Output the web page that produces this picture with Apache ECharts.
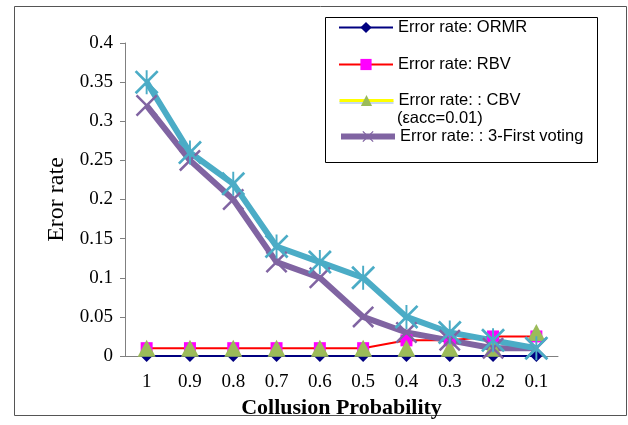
<!DOCTYPE html>
<html>
<head>
<meta charset="utf-8">
<script src="https://cdn.jsdelivr.net/npm/echarts@6/dist/echarts.min.js"></script>
<style>
  html, body { margin: 0; padding: 0; background: #fff; }
  #chart { width: 628px; height: 425px; }
</style>
</head>
<body>
<div id="chart"></div>
<script>
// Collusion probability on the x axis, error rate per voting scheme
const categories = ['1', '0.9', '0.8', '0.7', '0.6', '0.5', '0.4', '0.3', '0.2', '0.1'];
const ormr      = [0, 0, 0, 0, 0, 0, 0, 0, 0, 0];
const rbv       = [0.01, 0.01, 0.01, 0.01, 0.01, 0.01, 0.02, 0.02, 0.025, 0.025];
const cbv       = [0.01, 0.01, 0.01, 0.01, 0.01, 0.01, 0.01, 0.01, 0.01, 0.03];
const firstVote = [0.32, 0.25, 0.20, 0.12, 0.10, 0.05, 0.03, 0.02, 0.01, 0.01];
const majority  = [0.35, 0.26, 0.22, 0.14, 0.12, 0.10, 0.05, 0.03, 0.02, 0.01];

const seriesNames = [
  'Error rate: ORMR',
  'Error rate: RBV',
  'Error rate: : CBV',
  'Error rate: : 3-First voting',
  'Error rate: majority'
];
const cbvNote = '(εacc=0.01)';

// thin stroked marker shapes built as filled polygons
const crossPath = 'path://M0,1.6L1.6,0L20,18.4L18.4,20Z M18.4,0L20,1.6L1.6,20L0,18.4Z';
const starPath = 'path://M0,1.6L1.6,0L20,18.4L18.4,20Z M18.4,0L20,1.6L1.6,20L0,18.4Z M9.2,0L10.8,0L10.8,20L9.2,20Z';

const serif = '"Liberation Serif", "Times New Roman", serif';
const sans = '"Liberation Sans", Arial, sans-serif';

const legendBase = {
  orient: 'vertical',
  left: 333,
  itemWidth: 54,
  itemHeight: 14,
  itemGap: 0,
  selectedMode: false,
  textStyle: { fontFamily: sans, fontSize: 16.5, color: '#000' }
};

const chart = echarts.init(document.getElementById('chart'), null, { renderer: 'canvas' });
chart.setOption({
  animation: false,
  backgroundColor: '#fff',
  graphic: [
    {
      type: 'rect', left: 12, top: 4, z: -1,
      shape: { width: 612, height: 409 },
      style: { fill: 'none', stroke: '#555', lineWidth: 1 }
    },
    {
      type: 'rect', left: 325, top: 17, z: 10,
      shape: { width: 272, height: 145 },
      style: { fill: '#fff', stroke: '#000', lineWidth: 1 }
    },
    {
      type: 'text', left: 397, top: 110, z: 30,
      style: { text: cbvNote, font: '16.5px "Liberation Sans", Arial, sans-serif', fill: '#000' }
    }
  ],
  legend: [
    Object.assign({}, legendBase, {
      top: 14, z: 20,
      data: [{ name: seriesNames[0], lineStyle: { color: '#000080', width: 2 } }]
    }),
    Object.assign({}, legendBase, {
      top: 51, z: 20,
      data: [{ name: seriesNames[1], lineStyle: { color: '#ff0000', width: 2 } }]
    }),
    Object.assign({}, legendBase, {
      top: 87, z: 20,
      data: [{
        name: seriesNames[2],
        lineStyle: { color: '#ffff00', width: 3, opacity: 1, shadowColor: '#c6d9f1', shadowOffsetY: 2 }
      }]
    }),
    Object.assign({}, legendBase, {
      top: 123, z: 20,
      data: [{ name: seriesNames[3], lineStyle: { color: '#8064a2', width: 6 } }]
    })
  ],
  grid: { left: 125, right: 70, top: 43, bottom: 69 },
  xAxis: {
    type: 'category',
    data: categories,
    boundaryGap: true,
    name: 'Collusion Probability',
    nameLocation: 'middle',
    nameGap: 40,
    nameTextStyle: { fontFamily: serif, fontSize: 22, fontWeight: 'bold', color: '#000' },
    axisLine: { lineStyle: { color: '#808080', width: 1 } },
    axisTick: { show: false },
    axisLabel: { fontFamily: serif, fontSize: 19, color: '#000', margin: 17 },
    splitLine: { show: false }
  },
  yAxis: {
    type: 'value',
    min: 0,
    max: 0.4,
    interval: 0.05,
    name: 'Eror rate',
    nameLocation: 'middle',
    nameGap: 51,
    nameTextStyle: { fontFamily: serif, fontSize: 24, color: '#000' },
    axisLine: { show: true, lineStyle: { color: '#808080', width: 1 } },
    axisTick: { show: true, length: 5, lineStyle: { color: '#808080' } },
    axisLabel: { fontFamily: serif, fontSize: 19, color: '#000', margin: 12 },
    splitLine: { show: false }
  },
  series: [
    {
      name: seriesNames[0], type: 'line', data: ormr,
      symbol: 'diamond', symbolSize: 12,
      lineStyle: { color: '#000080', width: 2 },
      itemStyle: { color: '#000080' }
    },
    {
      name: seriesNames[1], type: 'line', data: rbv,
      symbol: 'rect', symbolSize: 12,
      lineStyle: { color: '#ff0000', width: 2 },
      itemStyle: { color: '#ff00ff' }
    },
    {
      name: seriesNames[2], type: 'line', data: cbv,
      symbol: 'triangle', symbolSize: [18, 17],
      lineStyle: { color: '#ffff00', width: 2, opacity: 0 },
      itemStyle: { color: '#9bbb59' }
    },
    {
      name: seriesNames[3], type: 'line', data: firstVote,
      symbol: crossPath, symbolSize: 22,
      lineStyle: { color: '#8064a2', width: 6 },
      itemStyle: { color: '#8064a2' }
    },
    {
      name: seriesNames[4], type: 'line', data: majority,
      symbol: starPath, symbolSize: 24,
      lineStyle: { color: '#4bacc6', width: 6 },
      itemStyle: { color: '#4bacc6' }
    }
  ]
});
</script>
</body>
</html>
